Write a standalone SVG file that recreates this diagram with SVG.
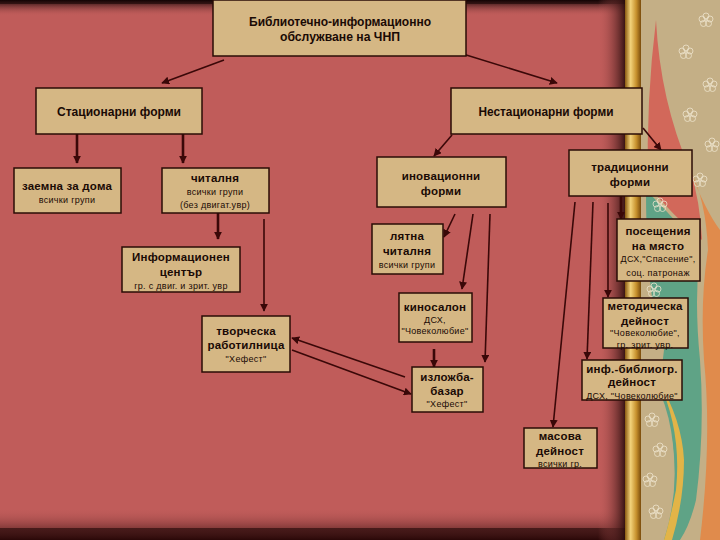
<svg xmlns="http://www.w3.org/2000/svg" width="720" height="540" viewBox="0 0 720 540">
<defs>
  <linearGradient id="gTop" x1="0" y1="0" x2="0" y2="1">
    <stop offset="0" stop-color="#120303"/>
    <stop offset="1" stop-color="#C05C5A" stop-opacity="0"/>
  </linearGradient>
  <linearGradient id="gBot" x1="0" y1="0" x2="0" y2="1">
    <stop offset="0" stop-color="#C05C5A" stop-opacity="0"/>
    <stop offset="1" stop-color="#2a0808"/>
  </linearGradient>
  <linearGradient id="gRight" x1="0" y1="0" x2="1" y2="0">
    <stop offset="0" stop-color="#C05C5A" stop-opacity="0"/>
    <stop offset="1" stop-color="#1a0404"/>
  </linearGradient>
  <linearGradient id="gGold" x1="0" y1="0" x2="1" y2="0">
    <stop offset="0" stop-color="#8a5a10"/>
    <stop offset="0.35" stop-color="#f2d27a"/>
    <stop offset="0.7" stop-color="#c8922e"/>
    <stop offset="1" stop-color="#7a4c0c"/>
  </linearGradient>
  <marker id="ah" viewBox="0 0 10 10" refX="9" refY="5" markerWidth="8" markerHeight="8" markerUnits="userSpaceOnUse" orient="auto">
    <path d="M0,0 L10,5 L0,10 Z" fill="#3a0808"/>
  </marker>
  <g id="flower" fill="none" stroke="#efe6d0" stroke-width="0.9" opacity="0.85">
    <circle cx="0" cy="-4" r="3"/>
    <circle cx="4" cy="-1" r="3"/>
    <circle cx="2.5" cy="3.5" r="3"/>
    <circle cx="-2.5" cy="3.5" r="3"/>
    <circle cx="-4" cy="-1" r="3"/>
    <circle cx="0" cy="0" r="1.2"/>
  </g>
  <style>
    .box { fill: #D5B784; stroke: #2a0c06; stroke-width: 1.5; }
    .t { font-family: "Liberation Sans", Arial, sans-serif; fill: #1a0a05; text-anchor: middle; }
    .b { font-weight: bold; font-size: 11.5px; letter-spacing: 0.2px; }
    .n { font-weight: bold; font-size: 12px; }
    .s { font-size: 9px; letter-spacing: 0.3px; }
    .c { stroke: #3a0808; stroke-width: 1.6; fill: none; marker-end: url(#ah); }
    .k { stroke-width: 2.6; }
  </style>
</defs>

<!-- background -->
<rect x="0" y="0" width="720" height="540" fill="#1a0505"/>
<rect x="0" y="4" width="628" height="524" fill="#C05C5A"/>
<rect x="0" y="0" width="628" height="16" fill="url(#gTop)"/>
<rect x="0" y="508" width="628" height="32" fill="url(#gBot)"/>
<rect x="598" y="0" width="30" height="540" fill="url(#gRight)"/>

<!-- right decoration -->
<rect x="628" y="0" width="92" height="540" fill="#C4AF86"/>
<path d="M656,20 Q660,100 690,170 Q700,200 702,240 Q672,215 648,185 Q646,100 656,20 Z" fill="#D2685A"/>
<path d="M690,170 Q706,200 708,250 Q700,300 704,360 Q712,440 700,540 L720,540 L720,230 Q705,210 690,170 Z" fill="#E08B4C"/>
<path d="M646,190 Q676,220 700,250 Q694,300 700,360 Q705,430 696,500 Q690,525 680,540 L664,540 Q680,490 672,440 Q656,400 664,350 Q646,300 646,190 Z" fill="#5FA386"/>
<path d="M641,360 Q672,400 674,460 Q672,510 660,540 L641,540 Z" fill="#C4AF86"/>
<path d="M658,380 Q682,430 676,490 Q670,520 664,540 L672,540 Q684,500 684,460 Q682,420 658,380 Z" fill="#E2B447"/>
<rect x="625" y="0" width="16" height="540" fill="url(#gGold)"/>
<use href="#flower" x="706" y="20"/>
<use href="#flower" x="686" y="52"/>
<use href="#flower" x="710" y="85"/>
<use href="#flower" x="690" y="115"/>
<use href="#flower" x="712" y="145"/>
<use href="#flower" x="700" y="180"/>
<use href="#flower" x="660" y="205"/>
<use href="#flower" x="652" y="238"/>
<use href="#flower" x="654" y="290"/>
<use href="#flower" x="652" y="420"/>
<use href="#flower" x="660" y="450"/>
<use href="#flower" x="650" y="480"/>
<use href="#flower" x="656" y="512"/>

<!-- connectors -->
<g id="connectors">
  <line class="c" x1="224" y1="60" x2="162" y2="83"/>
  <line class="c" x1="463" y1="54" x2="557" y2="83"/>
  <line class="c k" x1="77" y1="134" x2="77" y2="163"/>
  <line class="c k" x1="183" y1="134" x2="183" y2="163"/>
  <line class="c k" x1="218" y1="213" x2="218" y2="239"/>
  <line class="c" x1="264" y1="219" x2="264" y2="311"/>
  <line class="c" x1="452" y1="135" x2="434" y2="156"/>
  <line class="c" x1="643" y1="128" x2="661" y2="150"/>
  <line class="c" x1="455" y1="214" x2="444" y2="237"/>
  <line class="c" x1="473" y1="214" x2="462" y2="289"/>
  <line class="c" x1="490" y1="214" x2="485" y2="362"/>
  <line class="c k" x1="434" y1="349" x2="434" y2="367"/>
  <line class="c" x1="405" y1="377" x2="292" y2="338"/>
  <line class="c" x1="292" y1="350" x2="411" y2="394"/>
  <line class="c k" x1="621" y1="196" x2="621" y2="219"/>
  <line class="c" x1="608" y1="203" x2="608" y2="297"/>
  <line class="c" x1="593" y1="202" x2="587" y2="359"/>
  <line class="c" x1="575" y1="202" x2="553" y2="427"/>
</g>

<!-- nodes -->
<g id="n-root">
  <rect class="box" x="213" y="0" width="253" height="56"/>
  <text class="t n" x="340" y="26" textLength="182" lengthAdjust="spacingAndGlyphs">Библиотечно-информационно</text>
  <text class="t n" x="340" y="41" textLength="120" lengthAdjust="spacingAndGlyphs">обслужване на ЧНП</text>
</g>
<g id="n-stac">
  <rect class="box" x="36" y="88" width="166" height="46"/>
  <text class="t n" x="119" y="116" textLength="124" lengthAdjust="spacingAndGlyphs">Стационарни форми</text>
</g>
<g id="n-nestac">
  <rect class="box" x="451" y="88" width="191" height="46"/>
  <text class="t n" x="546" y="116" textLength="135" lengthAdjust="spacingAndGlyphs">Нестационарни форми</text>
</g>
<g id="n-zaemna">
  <rect class="box" x="14" y="168" width="107" height="45"/>
  <text class="t b" x="67" y="190">заемна за дома</text>
  <text class="t s" x="67" y="203">всички групи</text>
</g>
<g id="n-chitalnya">
  <rect class="box" x="162" y="168" width="107" height="45"/>
  <text class="t b" x="215" y="182">читалня</text>
  <text class="t s" x="215" y="195">всички групи</text>
  <text class="t s" x="215" y="208">(без двигат.увр)</text>
</g>
<g id="n-info">
  <rect class="box" x="122" y="247" width="118" height="45"/>
  <text class="t b" x="181" y="261">Информационен</text>
  <text class="t b" x="181" y="276">център</text>
  <text class="t s" x="181" y="289">гр. с двиг.  и зрит. увр</text>
</g>
<g id="n-tvorcheska">
  <rect class="box" x="202" y="316" width="88" height="56"/>
  <text class="t b" x="246" y="335">творческа</text>
  <text class="t b" x="246" y="349">работилница</text>
  <text class="t s" x="246" y="362">"Хефест"</text>
</g>
<g id="n-inovacionni">
  <rect class="box" x="377" y="157" width="129" height="50"/>
  <text class="t b" x="441" y="180">иновационни</text>
  <text class="t b" x="441" y="195">форми</text>
</g>
<g id="n-tradicionni">
  <rect class="box" x="569" y="150" width="123" height="46"/>
  <text class="t b" x="630" y="171">традиционни</text>
  <text class="t b" x="630" y="186">форми</text>
</g>
<g id="n-lyatna">
  <rect class="box" x="372" y="224" width="71" height="50"/>
  <text class="t b" x="407" y="240">лятна</text>
  <text class="t b" x="407" y="255">читалня</text>
  <text class="t s" x="407" y="268">всички групи</text>
</g>
<g id="n-kinosalon">
  <rect class="box" x="399" y="293" width="73" height="49"/>
  <text class="t b" x="435" y="311">киносалон</text>
  <text class="t s" x="435" y="323">ДСХ,</text>
  <text class="t s" x="435" y="334">"Човеколюбие"</text>
</g>
<g id="n-izlozhba">
  <rect class="box" x="412" y="367" width="71" height="45"/>
  <text class="t b" x="447" y="381">изложба-</text>
  <text class="t b" x="447" y="395">базар</text>
  <text class="t s" x="447" y="407">"Хефест"</text>
</g>
<g id="n-poseshtenia">
  <rect class="box" x="617" y="219" width="83" height="62"/>
  <text class="t b" x="658" y="235">посещения</text>
  <text class="t b" x="658" y="250">на място</text>
  <text class="t s" x="658" y="262">ДСХ,"Спасение",</text>
  <text class="t s" x="658" y="276">соц. патронаж</text>
</g>
<g id="n-metodicheska">
  <rect class="box" x="603" y="298" width="85" height="50"/>
  <text class="t b" x="645" y="310">методическа</text>
  <text class="t b" x="645" y="325">дейност</text>
  <text class="t s" x="645" y="336">"Човеколюбие",</text>
  <text class="t s" x="645" y="348">гр. зрит. увр.</text>
</g>
<g id="n-infbibl">
  <rect class="box" x="582" y="360" width="100" height="40"/>
  <text class="t b" x="632" y="373">инф.-библиогр.</text>
  <text class="t b" x="632" y="386">дейност</text>
  <text class="t s" x="632" y="399">ДСХ, "Човеколюбие"</text>
</g>
<g id="n-masova">
  <rect class="box" x="524" y="428" width="73" height="40"/>
  <text class="t b" x="560" y="440">масова</text>
  <text class="t b" x="560" y="455">дейност</text>
  <text class="t s" x="560" y="467">всички гр.</text>
</g>
</svg>
